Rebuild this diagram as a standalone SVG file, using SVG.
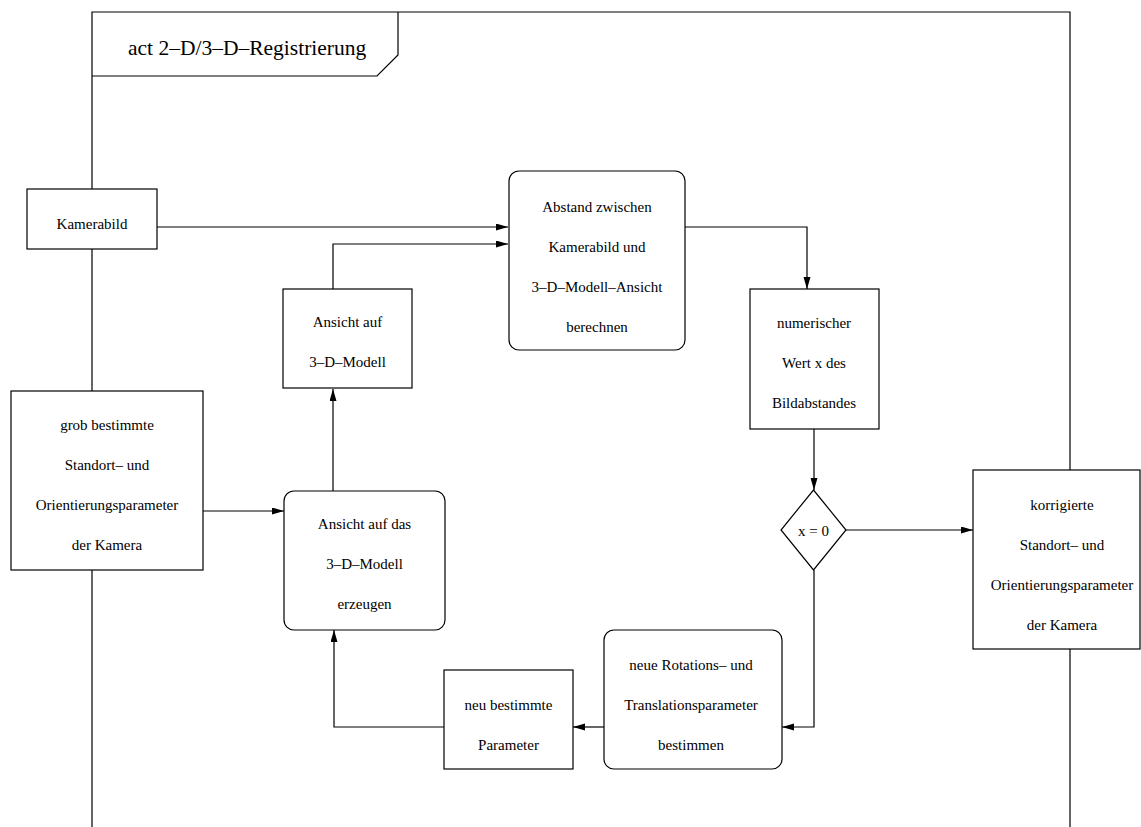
<svg xmlns="http://www.w3.org/2000/svg" width="1141" height="827" viewBox="0 0 1141 827">
  <style>
    .frame { fill: none; stroke: #000; stroke-width: 1.2; }
    .box { fill: #fff; stroke: #000; stroke-width: 1.2; }
    .edge { fill: none; stroke: #000; stroke-width: 1.2; }
    text { font-family: "Liberation Serif", "Times New Roman", serif; font-size: 15px; fill: #000; text-anchor: middle; }
    .title { font-size: 21.5px; text-anchor: start; }
  </style>
  <defs>
    <marker id="arrow" markerUnits="userSpaceOnUse" markerWidth="12" markerHeight="8" refX="12" refY="3.5" orient="auto">
      <path d="M0,0 L12,3.5 L0,7 z" fill="#000"/>
    </marker>
  </defs>

  <rect width="1141" height="827" fill="#fff"/>

  <!-- activity frame with lane lines -->
  <g id="frame">
    <path class="frame" d="M92,827 V12 H1070 V827"/>
    <path class="frame" d="M92,76 H377 L398,55 V12"/>
    <text class="title" x="128" y="55">act 2–D/3–D–Registrierung</text>
  </g>

  <!-- connectors -->
  <g id="connectors">
    <path class="edge" d="M157,227 H508" marker-end="url(#arrow)"/>
    <path class="edge" d="M333,289 V244 H508" marker-end="url(#arrow)"/>
    <path class="edge" d="M685,227 H807 V289" marker-end="url(#arrow)"/>
    <path class="edge" d="M814,429 V490" marker-end="url(#arrow)"/>
    <path class="edge" d="M846,530 H973" marker-end="url(#arrow)"/>
    <path class="edge" d="M814,570 V727 H782" marker-end="url(#arrow)"/>
    <path class="edge" d="M604,727 H573" marker-end="url(#arrow)"/>
    <path class="edge" d="M444,727 H334 V630" marker-end="url(#arrow)"/>
    <path class="edge" d="M333,491 V389" marker-end="url(#arrow)"/>
    <path class="edge" d="M203,511 H284" marker-end="url(#arrow)"/>
  </g>

  <g id="kamerabild">
    <rect class="box" x="27" y="189" width="130" height="60"/>
    <text x="92" y="229">Kamerabild</text>
  </g>

  <g id="grob-parameter">
    <rect class="box" x="11" y="391" width="192" height="179"/>
    <text x="107" y="430">grob bestimmte</text>
    <text x="107" y="470">Standort– und</text>
    <text x="107" y="510">Orientierungsparameter</text>
    <text x="107" y="550">der Kamera</text>
  </g>

  <g id="ansicht-auf">
    <rect class="box" x="283" y="289" width="129" height="99"/>
    <text x="347.5" y="327">Ansicht auf</text>
    <text x="347.5" y="367">3–D–Modell</text>
  </g>

  <g id="ansicht-erzeugen">
    <rect class="box" x="284" y="491" width="161" height="139" rx="10" ry="10"/>
    <text x="364.5" y="529">Ansicht auf das</text>
    <text x="364.5" y="569">3–D–Modell</text>
    <text x="364.5" y="609">erzeugen</text>
  </g>

  <g id="abstand">
    <rect class="box" x="509" y="171" width="176" height="179" rx="10" ry="10"/>
    <text x="597" y="212">Abstand zwischen</text>
    <text x="597" y="252">Kamerabild und</text>
    <text x="597" y="292">3–D–Modell–Ansicht</text>
    <text x="597" y="332">berechnen</text>
  </g>

  <g id="numerischer-wert">
    <rect class="box" x="750" y="289" width="129" height="140"/>
    <text x="814" y="328">numerischer</text>
    <text x="814" y="368">Wert x des</text>
    <text x="814" y="408">Bildabstandes</text>
  </g>

  <g id="entscheidung">
    <polygon class="box" points="813.5,490 846,530 813.5,570 781,530"/>
    <text x="813.5" y="536">x = 0</text>
  </g>

  <g id="korrigierte-parameter">
    <rect class="box" x="973" y="470" width="167" height="179"/>
    <text x="1062" y="510">korrigierte</text>
    <text x="1062" y="550">Standort– und</text>
    <text x="1062" y="590">Orientierungsparameter</text>
    <text x="1062" y="630">der Kamera</text>
  </g>

  <g id="neue-parameter-bestimmen">
    <rect class="box" x="604" y="630" width="178" height="139" rx="10" ry="10"/>
    <text x="691" y="670">neue Rotations– und</text>
    <text x="691" y="710">Translationsparameter</text>
    <text x="691" y="750">bestimmen</text>
  </g>

  <g id="neu-bestimmte-parameter">
    <rect class="box" x="444" y="670" width="129" height="99"/>
    <text x="508.5" y="710">neu bestimmte</text>
    <text x="508.5" y="750">Parameter</text>
  </g>
</svg>
